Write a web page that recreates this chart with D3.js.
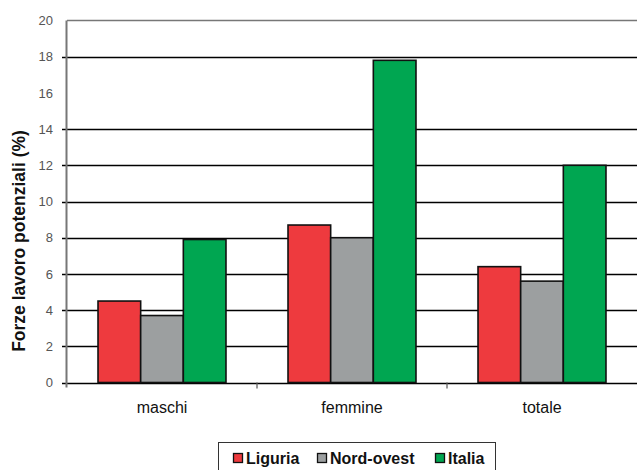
<!DOCTYPE html>
<html>
<head>
<meta charset="utf-8">
<script src="https://cdn.jsdelivr.net/npm/d3@7"></script>
<style>
  html, body { margin: 0; padding: 0; background: #fff; }
  svg { display: block; }
  text { font-family: "Liberation Sans", Arial, sans-serif; }
</style>
</head>
<body>
<svg id="chart" width="637" height="470"></svg>
<script>
const categories = ["maschi", "femmine", "totale"];
const seriesNames = ["Liguria", "Nord-ovest", "Italia"];
const liguria = [4.5, 8.7, 6.4];
const nordOvest = [3.7, 8.0, 5.6];
const italia = [7.9, 17.8, 12.0];
const yTickValues = [0, 2, 4, 6, 8, 10, 12, 14, 16, 18, 20];
const yTickLabels = ["0", "2", "4", "6", "8", "10", "12", "14", "16", "18", "20"];
const gridValues = [0, 2, 4, 6, 8, 10, 12, 14, 18];
const yTitle = "Forze lavoro potenziali (%)";
const colors = ["#EE3A3E", "#9C9FA0", "#00A651"];

const seriesValues = [liguria, nordOvest, italia];

const svg = d3.select("#chart");
const m = { left: 67, right: 637, top: 20.5, bottom: 382.5 };

const x0 = d3.scaleBand().domain(categories).range([m.left, m.right]).paddingInner(0).paddingOuter(0);
const x1 = d3.scaleBand().domain(seriesNames).range([0, x0.bandwidth()]).paddingInner(0).paddingOuter(0.727);
const y = d3.scaleLinear().domain([0, 20]).range([m.bottom, m.top]);

// plot border (top)
svg.append("line").attr("x1", m.left).attr("x2", m.right + 5)
  .attr("y1", y(20)).attr("y2", y(20)).attr("stroke", "#777").attr("stroke-width", 1.5);

// gridlines
svg.append("g").selectAll("line").data(gridValues).join("line")
  .attr("x1", m.left - 5).attr("x2", m.right)
  .attr("y1", d => Math.round(y(d)) + 0.5).attr("y2", d => Math.round(y(d)) + 0.5)
  .attr("stroke", "#000").attr("stroke-width", 1.4);

// y axis labels
const yAxis = d3.axisLeft(y).tickValues(yTickValues)
  .tickFormat((d, i) => yTickLabels[i]).tickSize(0).tickPadding(14);
const gy = svg.append("g").attr("transform", `translate(${m.left},0)`).call(yAxis);
gy.select(".domain").remove();
gy.selectAll("text").attr("fill", "#555").attr("font-size", 13);

// bars
const groups = svg.append("g").selectAll("g").data(categories).join("g")
  .attr("transform", d => `translate(${x0(d)},0)`);
groups.selectAll("rect")
  .data((c, ci) => seriesNames.map((s, si) => ({ s, si, v: seriesValues[si][ci] })))
  .join("rect")
  .attr("x", d => x1(d.s))
  .attr("width", x1.bandwidth())
  .attr("y", d => y(d.v))
  .attr("height", d => y(0) - y(d.v))
  .attr("fill", d => colors[d.si])
  .attr("stroke", "#111").attr("stroke-width", 1.6);

// y axis line
svg.append("line").attr("x1", m.left - 0.5).attr("x2", m.left - 0.5)
  .attr("y1", y(20)).attr("y2", m.bottom + 5).attr("stroke", "#777").attr("stroke-width", 2);

// x axis labels and category boundary ticks
const xAxis = d3.axisBottom(x0).tickSize(0).tickPadding(19);
const gx = svg.append("g").attr("transform", `translate(0,${m.bottom})`).call(xAxis);
gx.select(".domain").remove();
gx.selectAll("text").attr("fill", "#111").attr("font-size", 16);
svg.append("g").selectAll("line").data(categories.slice(1)).join("line")
  .attr("x1", d => x0(d)).attr("x2", d => x0(d))
  .attr("y1", m.bottom).attr("y2", m.bottom + 6)
  .attr("stroke", "#555").attr("stroke-width", 1.2);

// y title
svg.append("text")
  .attr("transform", `translate(25,241) rotate(-90)`)
  .attr("text-anchor", "middle")
  .attr("font-size", 17.5).attr("font-weight", "bold").attr("fill", "#111")
  .text(yTitle);

// legend
const lg = svg.append("g");
lg.append("rect").attr("x", 218.5).attr("y", 442.5).attr("width", 277).attr("height", 40)
  .attr("fill", "#fff").attr("stroke", "#333").attr("stroke-width", 1);
const legendX = [233, 317, 435];
seriesNames.forEach((s, i) => {
  lg.append("rect").attr("x", legendX[i] + 0.5).attr("y", 453.5).attr("width", 9).attr("height", 9)
    .attr("fill", colors[i]).attr("stroke", "#111").attr("stroke-width", 1.3);
  lg.append("text").attr("x", legendX[i] + 13).attr("y", 464)
    .attr("font-size", 16).attr("font-weight", "bold").attr("fill", "#111").text(s);
});
</script>
</body>
</html>
